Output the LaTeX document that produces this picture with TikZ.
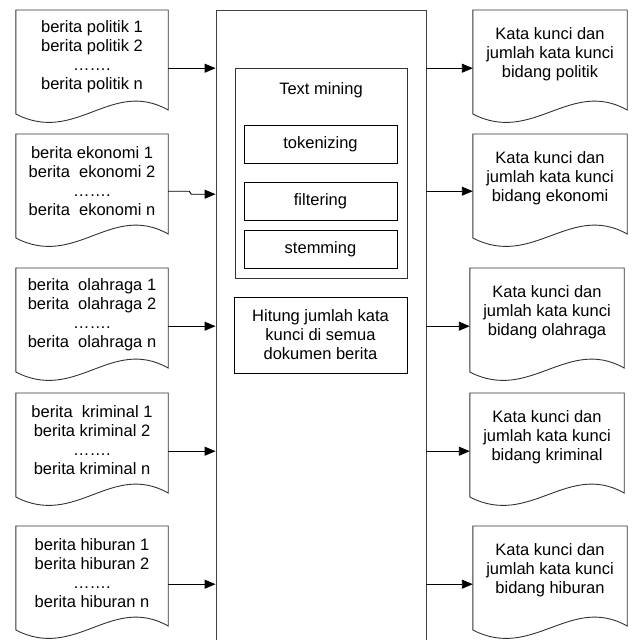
\documentclass[tikz,border=0pt]{standalone}
\usepackage{fontspec}
\setmainfont{Liberation Sans}
\usetikzlibrary{positioning, calc, arrows.meta}
\tikzstyle{arrow} = [line width=0.9pt, -{Triangle[length=11pt,width=9pt]}]

% wavy document outline round a node
\newcommand{\docoutline}[1]{%
  \draw[docline] (#1.north west) -- (#1.north east) -- ($(#1.north east)+(0,100)$)
    .. controls +(-57,-32) and +(60,31) .. ($(#1.north west)+(0,104)$) -- cycle;}

\begin{document}
\begin{tikzpicture}[x=1pt, y=-1pt]
    \tikzstyle{every node}=[font=\fontsize{16.5}{19}\selectfont]
    \tikzstyle{doc} = [anchor=north, minimum width=152, minimum height=94, inner sep=0pt, align=center]
    \tikzstyle{rdoc} = [doc, minimum width=154, minimum height=88]
    \tikzstyle{docline} = [draw=black!80, line width=0.9pt]
    \tikzstyle{box} = [draw=black, line width=0.9pt, inner sep=0pt, align=center]
    \tikzstyle{stage} = [box, minimum width=153, minimum height=38]

    \useasboundingbox (0,0) rectangle (633,640);

    % process column
    \node[box, draw=black!75, minimum width=210, minimum height=640] (main) at (321,330) {};
    \node[box, draw=black!80, minimum width=172, minimum height=210] (tm) at (321,173) {};
    \node (tmtitle) at (321,90) {Text mining};
    \node[stage] (tok) at (320.5,144) {tokenizing};
    \node[stage] (fil) at (320.5,201) {filtering};
    \node[stage] (stem) at (320.5,249) {stemming};
    \node[box, minimum width=173, minimum height=76] (hit) at (320.5,335)
        {Hitung jumlah kata\\kunci di semua\\dokumen berita};

    % news documents
    \node[doc] (pol) at (92,10) {berita politik 1\\berita politik 2\\…….\\berita politik n};
    \node[doc] (eko) at (92,134) {berita ekonomi 1\\berita\ \ ekonomi 2\\…….\\berita\ \ ekonomi n};
    \node[doc] (olah) at (92,268) {berita\ \ olahraga 1\\berita\ \ olahraga 2\\…….\\berita\ \ olahraga n};
    \node[doc] (krim) at (92,393) {berita\ \ kriminal 1\\berita kriminal 2\\…….\\berita kriminal n};
    \node[doc] (hib) at (92,526) {berita hiburan 1\\berita hiburan 2\\…….\\berita hiburan n};
    \docoutline{pol}
    \docoutline{eko}
    \docoutline{olah}
    \docoutline{krim}
    \docoutline{hib}

    % keyword documents
    \node[rdoc] (rpol) at (550,10) {Kata kunci dan\\jumlah kata kunci\\bidang politik};
    \node[rdoc] (reko) at (550,134) {Kata kunci dan\\jumlah kata kunci\\bidang ekonomi};
    \node[rdoc] (rolah) at (547,268) {Kata kunci dan\\jumlah kata kunci\\bidang olahraga};
    \node[rdoc] (rkrim) at (547,393) {Kata kunci dan\\jumlah kata kunci\\bidang kriminal};
    \node[rdoc] (rhib) at (550,526) {Kata kunci dan\\jumlah kata kunci\\bidang hiburan};
    \docoutline{rpol}
    \docoutline{reko}
    \docoutline{rolah}
    \docoutline{rkrim}
    \docoutline{rhib}

    % arrow rows
    \coordinate (pol out) at ($(pol.east)+(0,11)$);
    \coordinate (eko out) at ($(eko.east)+(0,10)$);
    \coordinate (olah out) at ($(olah.east)+(0,11)$);
    \coordinate (krim out) at ($(krim.east)+(0,11)$);
    \coordinate (hib out) at ($(hib.east)+(0,11)$);

    \draw[arrow] (pol out) -- (pol out -| main.west);
    \draw[arrow] (eko out) -- ++(21,0) -- ++(2,3) -- ($(eko out -| main.west)+(0,3)$);
    \draw[arrow] (olah out) -- (olah out -| main.west);
    \draw[arrow] (krim out) -- (krim out -| main.west);
    \draw[arrow] (hib out) -- (hib out -| main.west);

    \draw[arrow] (pol out -| main.east) -- (pol out -| rpol.west);
    \draw[arrow] (eko out -| main.east) -- (eko out -| reko.west);
    \draw[arrow] (olah out -| main.east) -- (olah out -| rolah.west);
    \draw[arrow] (krim out -| main.east) -- (krim out -| rkrim.west);
    \draw[arrow] (hib out -| main.east) -- (hib out -| rhib.west);

\end{tikzpicture}
\end{document}
